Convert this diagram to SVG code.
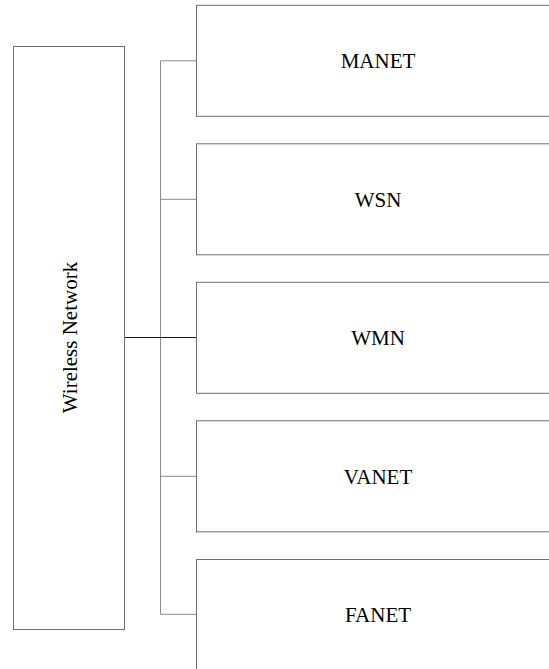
<svg xmlns="http://www.w3.org/2000/svg" width="549" height="669" viewBox="0 0 549 669">
<style>
.box{fill:#fff;stroke:#6e6e6e;stroke-width:1}
.lbl{font-family:"Liberation Serif","Times New Roman",serif;font-size:21px;fill:#000;text-anchor:middle}
.con{stroke:#8a8a8a;stroke-width:1;fill:none}
.main{stroke:#1a1a1a;stroke-width:1.2;fill:none}
</style>
<rect width="549" height="669" fill="#fff"/>
<g id="connectors">
<path class="con" d="M160.5,60.8 V614.3"/>
<path class="con" d="M160.5,60.8 H196.5"/>
<path class="con" d="M160.5,199.3 H196.5"/>
<path class="con" d="M160.5,476.3 H196.5"/>
<path class="con" d="M160.5,614.3 H196.5"/>
<path class="main" d="M124.3,337.5 H196.5"/>
</g>
<g id="wireless-network">
<rect class="box" x="13.5" y="46.5" width="111" height="583"/>
<text class="lbl" transform="translate(76.5,337.5) rotate(-90)">Wireless Network</text>
</g>
<g id="manet">
<rect class="box" x="196.5" y="5.3" width="364" height="111"/>
<text class="lbl" x="378" y="68">MANET</text>
</g>
<g id="wsn">
<rect class="box" x="196.5" y="143.8" width="364" height="111"/>
<text class="lbl" x="378" y="206.5">WSN</text>
</g>
<g id="wmn">
<rect class="box" x="196.5" y="282.3" width="364" height="111"/>
<text class="lbl" x="378" y="345">WMN</text>
</g>
<g id="vanet">
<rect class="box" x="196.5" y="420.8" width="364" height="111"/>
<text class="lbl" x="378" y="483.5">VANET</text>
</g>
<g id="fanet">
<rect class="box" x="196.5" y="559.5" width="364" height="111"/>
<text class="lbl" x="378" y="621.5">FANET</text>
</g>
</svg>
